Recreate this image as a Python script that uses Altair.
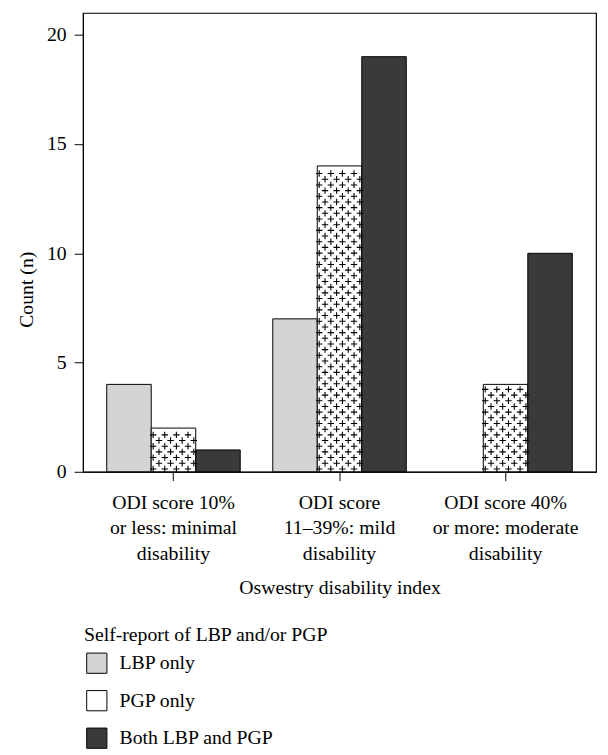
import altair as alt
import pandas as pd

categories = ["ODI score 10%|or less: minimal|disability",
              "ODI score|11–39%: mild|disability",
              "ODI score 40%|or more: moderate|disability"]
series = ["LBP only", "PGP only", "Both LBP and PGP"]
lbp_only = [4, 7, 0]
pgp_only = [2, 14, 4]
both = [1, 19, 10]
fills = ["#d4d4d4", "#ffffff", "#3a3a3a"]

rows = []
for vals, s in zip([lbp_only, pgp_only, both], series):
    for c, v in zip(categories, vals):
        rows.append({"category": c, "series": s, "value": v})
df = pd.DataFrame(rows)

FONT = "Liberation Serif"
FS = 20

x_enc = alt.X("category:N", sort=categories,
              scale=alt.Scale(paddingInner=0.196, paddingOuter=0.143),
              axis=alt.Axis(title="Oswestry disability index", labelAngle=0,
                            labelExpr="split(datum.label, '|')",
                            labelLineHeight=26, labelPadding=12, tickSize=9,
                            titlePadding=14, domain=True))
y_scale = alt.Scale(domain=[0, 21], nice=False)

bars = alt.Chart(df).mark_bar(stroke="black", strokeWidth=1).encode(
    x=x_enc,
    xOffset=alt.XOffset("series:N", sort=series, scale=alt.Scale(domain=series, paddingInner=0, paddingOuter=0)),
    y=alt.Y("value:Q", scale=y_scale,
            axis=alt.Axis(title="Count (n)", values=[0, 5, 10, 15, 20], grid=False,
                          tickSize=9, labelPadding=8, titleX=-57, titleY=280,
                          titleBaseline="middle")),
    fill=alt.Fill("series:N", sort=series,
                  scale=alt.Scale(domain=series, range=fills),
                  legend=alt.Legend(title="Self-report of LBP and/or PGP", orient="none",
                                    legendX=1, legendY=620, symbolType="square",
                                    symbolSize=420, symbolStrokeColor="black",
                                    symbolStrokeWidth=1, rowPadding=12,
                                    titlePadding=8, labelOffset=12, padding=0,
                                    symbolOffset=2, labelLimit=0, titleLimit=0)),
).transform_filter("datum.value > 0")

plus = alt.Chart(df).transform_filter(
    "datum.series == 'PGP only'"
).transform_calculate(
    row="sequence(0, floor(datum.value / 0.26))"
).transform_flatten(["row"]).transform_calculate(
    col="datum.row % 2 == 0 ? [8, 10, 12, 14] : [9, 11, 13, 15]",
    yy="(datum.row + 0.5) * 0.26",
).transform_flatten(["col"]).mark_point(
    shape="M-1,0L1,0M0,-1L0,1", filled=False, stroke="black", strokeWidth=1.1,
    size=42, opacity=1
).encode(
    x=alt.X("category:N", sort=categories),
    xOffset=alt.XOffset("col:O", scale=alt.Scale(domain=list(range(24)), paddingInner=0, paddingOuter=0)),
    y=alt.Y("yy:Q", scale=y_scale),
)

chart = alt.layer(bars, plus).resolve_scale(xOffset="independent").properties(
    width=520, height=465,
    padding={"left": 76, "top": 0, "right": 4, "bottom": 282},
    autosize=alt.AutoSizeParams(type="none"),
).configure_view(stroke="black", strokeWidth=1.2).configure_axis(
    labelFont=FONT, titleFont=FONT, labelFontSize=FS, titleFontSize=FS,
    labelColor="black", titleColor="black", titleFontWeight="normal",
    domainColor="black", tickColor="black",
).configure_legend(
    titleFont=FONT, labelFont=FONT, titleFontSize=FS, labelFontSize=FS,
    titleFontWeight="normal", titleColor="black", labelColor="black",
)

chart.save("out.html", embed_options={"renderer": "svg", "actions": False})
